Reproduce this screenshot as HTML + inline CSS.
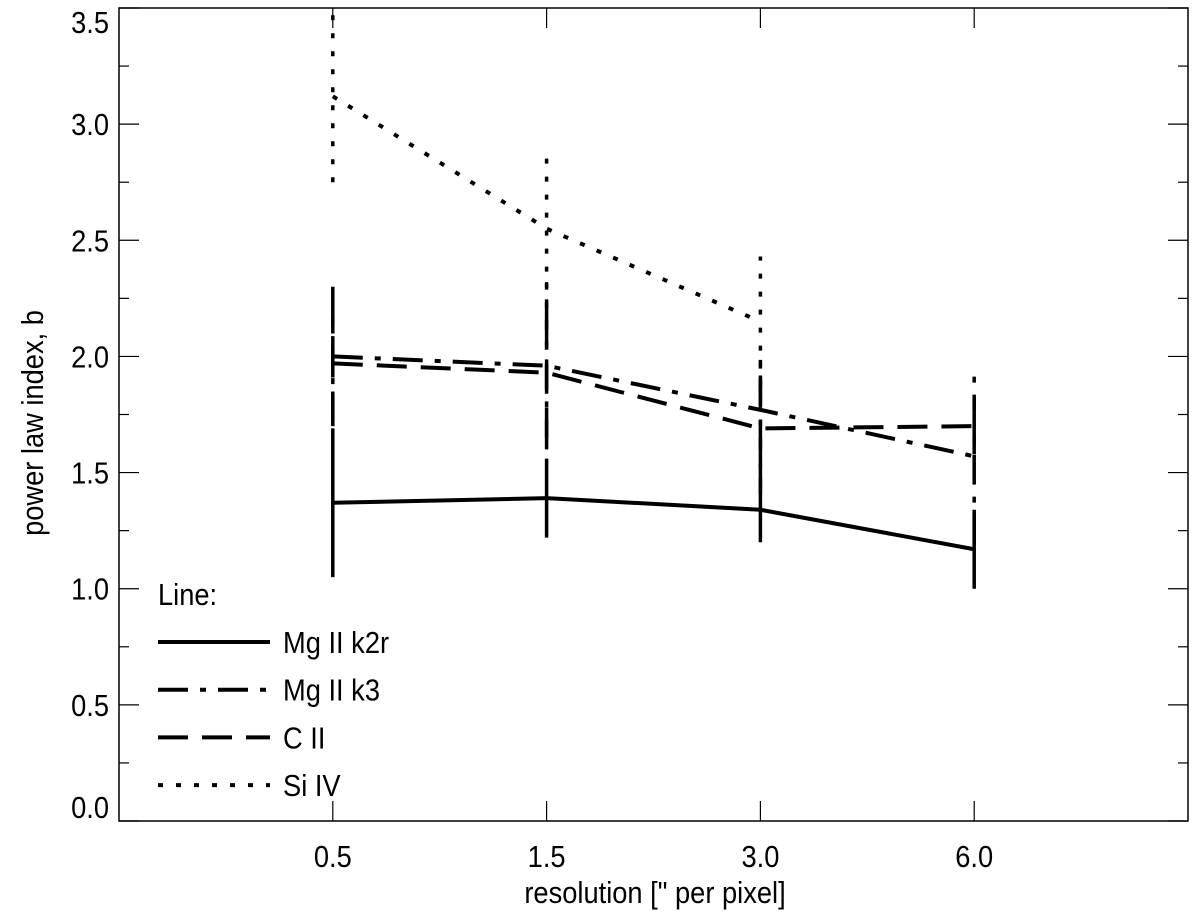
<!DOCTYPE html>
<html><head><meta charset="utf-8"><style>
html,body{margin:0;padding:0;background:#fff;}
svg text{font-family:"Liberation Sans",sans-serif;fill:#000;}
</style></head><body>
<svg id="chart" width="1200" height="916" xmlns="http://www.w3.org/2000/svg"></svg>
<script>
const categories = ["0.5","1.5","3.0","6.0"];
const yTicks = [0,0.5,1,1.5,2,2.5,3,3.5];
const seriesNames = ["Mg II k2r","Mg II k3","C II","Si IV"];
const k2rVals = [1.37,1.39,1.34,1.17];
const k2rErr = [0.32,0.17,0.14,0.17];
const k3Vals = [2.00,1.96,1.77,1.57];
const k3Err = [0.30,0.36,0.25,0.38];
const ciiVals = [1.97,1.93,1.69,1.70];
const ciiErr = [0.25,0.28,0.28,0.12];
const siVals = [3.12,2.55,2.15];
const siErr = [0.37,0.34,0.28];

const L=119,R=1188,T=8,B=821,ymax=3.5;
const FS=31, SX=0.88;
const svg=document.getElementById('chart');
const NS='http://www.w3.org/2000/svg';
function xs(i){return L+(i+1)*(R-L)/5;}
function ys(v){return B-(v/ymax)*(B-T);}
function mk(tag,attrs,parent){const e=document.createElementNS(NS,tag);for(const k in attrs)e.setAttribute(k,attrs[k]);(parent||svg).appendChild(e);return e;}
function txt(x,y,anchor,rot,parent){
  let tf='translate('+x+','+y+')'+(rot?' rotate(-90)':'')+' scale('+SX+',1)';
  return mk('text',{x:0,y:0,'text-anchor':anchor,'font-size':FS,transform:tf},parent);
}

const frame=mk('rect',{x:L,y:T,width:R-L,height:B-T,fill:'none',stroke:'#000','stroke-width':1.5});



for(let v=0;v<=3.5001;v+=0.25){
  const maj=Math.abs(v*2-Math.round(v*2))<1e-6;
  const len=maj?20:10;
  const t1=mk('line',{x1:L,x2:L+len,y1:ys(v),y2:ys(v),stroke:'#000','stroke-width':1.2});
  
  
  const t2=mk('line',{x1:R,x2:R-len,y1:ys(v),y2:ys(v),stroke:'#000','stroke-width':1.2});
  
  
}
yTicks.forEach(v=>{
  let by=ys(v)+11;
  by=Math.min(by,B-3);
  by=Math.max(by,T+25);
  const t=txt(L-10,by,'end',false);
  t.textContent=v.toFixed(1);
  
  
});
categories.forEach((c,i)=>{
  const a=mk('line',{x1:xs(i),x2:xs(i),y1:B,y2:B-20,stroke:'#000','stroke-width':1.2});
  
  
  const b=mk('line',{x1:xs(i),x2:xs(i),y1:T,y2:T+20,stroke:'#000','stroke-width':1.2});
  
  
  const t=txt(xs(i),867,'middle',false);
  t.textContent=c;
  
  
});
const xt=txt(655,903,'middle',false);
xt.textContent='resolution [" per pixel]';


const yt=txt(43,423,'middle',true);
yt.textContent='power law index, b';



const styles=[
  {dash:'none'},
  {dash:'30 12 6 12'},
  {dash:'30 14'},
  {dash:'5 13'}
];
const allVals=[k2rVals,k3Vals,ciiVals,siVals];
const allErr=[k2rErr,k3Err,ciiErr,siErr];
const keys=['mg-ii-k2r','mg-ii-k3','c-ii','si-iv'];
allVals.forEach((vals,s)=>{
  const g=mk('g',{});
  
  
  const pts=vals.map((v,i)=>xs(i)+','+ys(v)).join(' ');
  const pl=mk('polyline',{points:pts,fill:'none',stroke:'#000','stroke-width':4,'stroke-dasharray':styles[s].dash},g);
  
  
  vals.forEach((v,i)=>{
    const e=allErr[s][i];
    const eb=mk('line',{x1:xs(i),x2:xs(i),y1:ys(v-e),y2:ys(v+e),stroke:'#000','stroke-width':3.5,'stroke-dasharray':styles[s].dash},g);
    
    
  });
});

const lg=mk('g',{});


const lt=txt(158,605,'start',false,lg);
lt.textContent='Line:';


seriesNames.forEach((n,s)=>{
  const y=642+s*47.7;
  const ln=mk('line',{x1:158,x2:270,y1:y,y2:y,stroke:'#000','stroke-width':4,'stroke-dasharray':styles[s].dash},lg);
  
  
  const t=txt(283,y+11,'start',false,lg);
  t.textContent=n;
  
  
});
</script>
</body></html>
